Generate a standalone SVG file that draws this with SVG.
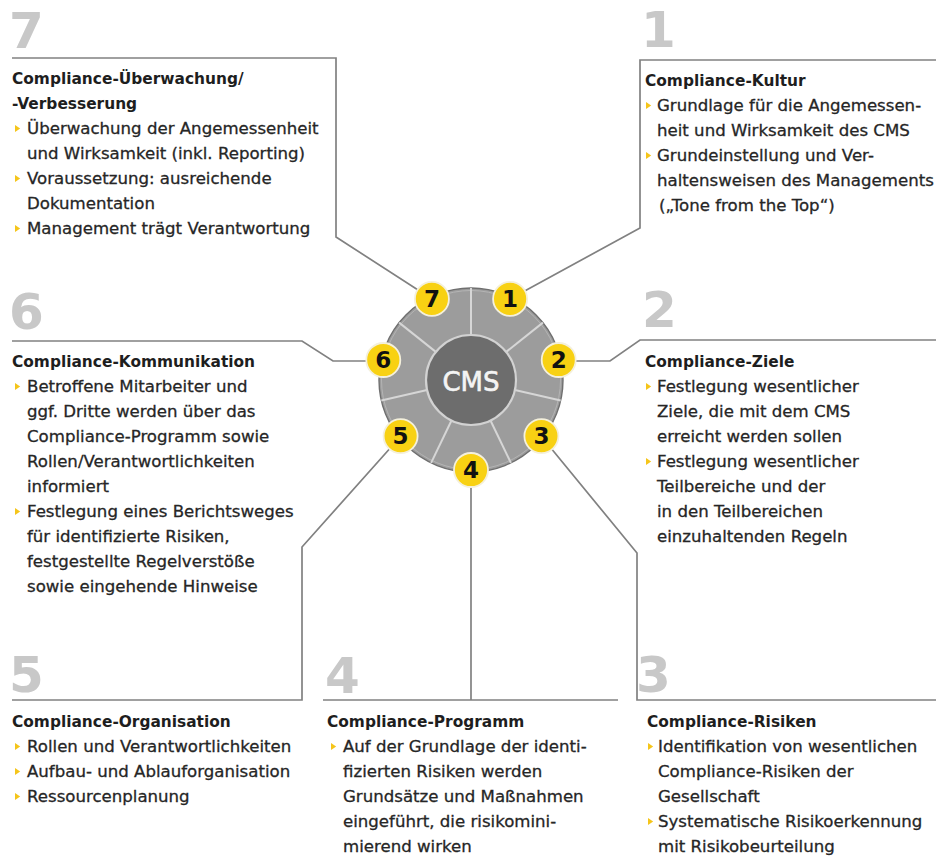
<svg xmlns="http://www.w3.org/2000/svg" xmlns:xlink="http://www.w3.org/1999/xlink" width="936" height="857" viewBox="0 0 936 857">
  <style>
    .num { font-family: "DejaVu Sans", "Liberation Sans", sans-serif; font-weight: bold; font-size: 50px; fill: #c8c8c8; }
    .title { font-family: "DejaVu Sans", "Liberation Sans", sans-serif; font-weight: bold; font-size: 15.4px; fill: #1e1e1e; }
    .body { font-family: "DejaVu Sans", "Liberation Sans", sans-serif; font-size: 16.6px; fill: #262626; stroke: #262626; stroke-width: 0.3; }
    .conn { fill: none; stroke: #818181; stroke-width: 1.7; stroke-linejoin: miter; }
    .sep { stroke: #d6d6d6; stroke-width: 2; }
    .badge { fill: #f8d113; stroke: #f4f0dc; stroke-width: 1.8; }
    .badge-num { font-family: "DejaVu Sans", "Liberation Sans", sans-serif; font-weight: bold; font-size: 23px; fill: #111; text-anchor: middle; }
    .cms { font-family: "DejaVu Sans", "Liberation Sans", sans-serif; font-size: 26px; fill: #f4f4f4; stroke: #f4f4f4; stroke-width: 0.6; text-anchor: middle; }
    .bul { fill: #f5c51a; }
  </style>
  <defs>
    <path id="bullet" d="M0,-3.5 L5.2,0 L0,3.5 Z"/>
  </defs>

  <rect width="936" height="857" fill="#ffffff"/>

  <!-- connectors from the wheel to the text panels -->
  <g id="connectors">
    <polyline class="conn" points="12,58 336,58 336,237 432,299"/>
    <polyline class="conn" points="936,60 640,60 640,228 510,299"/>
    <polyline class="conn" points="12,341 302,341 333,361 383,361"/>
    <polyline class="conn" points="936,340 640,340 610,361 559,361"/>
    <polyline class="conn" points="401,436 302,547 302,700 12,700"/>
    <polyline class="conn" points="471,470 471,700"/>
    <line class="conn" x1="323" y1="700" x2="618" y2="700"/>
    <polyline class="conn" points="541,436 637,553 637,700 936,700"/>
  </g>

  <!-- central wheel -->
  <g id="cms">
    <circle cx="471" cy="380" r="92" fill="#9c9c9c" stroke="#6f6f6f" stroke-width="1.4"/>
    <circle cx="471" cy="380" r="89.5" fill="none" stroke="#b4b4b4" stroke-width="1"/>
    <line class="sep" x1="471" y1="335" x2="471" y2="288"/>
    <line class="sep" x1="506.2" y1="351.9" x2="542.9" y2="322.6"/>
    <line class="sep" x1="514.9" y1="390" x2="560.7" y2="400.5"/>
    <line class="sep" x1="490.5" y1="420.5" x2="510.9" y2="462.9"/>
    <line class="sep" x1="451.5" y1="420.5" x2="431.1" y2="462.9"/>
    <line class="sep" x1="427.1" y1="390" x2="381.3" y2="400.5"/>
    <line class="sep" x1="435.8" y1="351.9" x2="399.1" y2="322.6"/>
    <circle cx="471" cy="380" r="45" fill="#6d6d6d" stroke="#d2d2d2" stroke-width="2.2"/>
    <text class="cms" x="471" y="391">CMS</text>

    <g id="badge-1"><circle class="badge" cx="510.1" cy="298.9" r="17"/><text class="badge-num" x="510.1" y="307.2">1</text></g>
    <g id="badge-2"><circle class="badge" cx="558.7" cy="360" r="17"/><text class="badge-num" x="558.7" y="368.3">2</text></g>
    <g id="badge-3"><circle class="badge" cx="541.4" cy="436.1" r="17"/><text class="badge-num" x="541.4" y="444.4">3</text></g>
    <g id="badge-4"><circle class="badge" cx="471" cy="470" r="17"/><text class="badge-num" x="471" y="478.3">4</text></g>
    <g id="badge-5"><circle class="badge" cx="400.6" cy="436.1" r="17"/><text class="badge-num" x="400.6" y="444.4">5</text></g>
    <g id="badge-6"><circle class="badge" cx="383.3" cy="360" r="17"/><text class="badge-num" x="383.3" y="368.3">6</text></g>
    <g id="badge-7"><circle class="badge" cx="431.9" cy="298.9" r="17"/><text class="badge-num" x="431.9" y="307.2">7</text></g>
  </g>

  <!-- 7: monitoring / improvement -->
  <g id="node-7">
    <text class="num" x="9" y="48">7</text>
    <text class="title" x="12" y="84">Compliance-Überwachung/</text>
    <text class="title" x="12" y="109">-Verbesserung</text>
    <use href="#bullet" class="bul" x="15" y="128.5"/>
    <text class="body" x="27" y="134">Überwachung der Angemessenheit</text>
    <text class="body" x="27" y="159">und Wirksamkeit (inkl. Reporting)</text>
    <use href="#bullet" class="bul" x="15" y="178.5"/>
    <text class="body" x="27" y="184">Voraussetzung: ausreichende</text>
    <text class="body" x="27" y="209">Dokumentation</text>
    <use href="#bullet" class="bul" x="15" y="228.5"/>
    <text class="body" x="27" y="234">Management trägt Verantwortung</text>
  </g>

  <!-- 1: culture -->
  <g id="node-1">
    <text class="num" x="641" y="47">1</text>
    <text class="title" x="645" y="86">Compliance-Kultur</text>
    <use href="#bullet" class="bul" x="646" y="105.5"/>
    <text class="body" x="657" y="111">Grundlage für die Angemessen-</text>
    <text class="body" x="657" y="136">heit und Wirksamkeit des CMS</text>
    <use href="#bullet" class="bul" x="646" y="155.5"/>
    <text class="body" x="657" y="161">Grundeinstellung und Ver-</text>
    <text class="body" x="657" y="186">haltensweisen des Managements</text>
    <text class="body" x="659" y="211">(„Tone from the Top“)</text>
  </g>

  <!-- 6: communication -->
  <g id="node-6">
    <text class="num" x="9" y="329">6</text>
    <text class="title" x="12" y="367">Compliance-Kommunikation</text>
    <use href="#bullet" class="bul" x="15" y="386.5"/>
    <text class="body" x="27" y="392">Betroffene Mitarbeiter und</text>
    <text class="body" x="27" y="417">ggf. Dritte werden über das</text>
    <text class="body" x="27" y="442">Compliance-Programm sowie</text>
    <text class="body" x="27" y="467">Rollen/Verantwortlichkeiten</text>
    <text class="body" x="27" y="492">informiert</text>
    <use href="#bullet" class="bul" x="15" y="511.5"/>
    <text class="body" x="27" y="517">Festlegung eines Berichtsweges</text>
    <text class="body" x="27" y="542">für identifizierte Risiken,</text>
    <text class="body" x="27" y="567">festgestellte Regelverstöße</text>
    <text class="body" x="27" y="592">sowie eingehende Hinweise</text>
  </g>

  <!-- 2: objectives -->
  <g id="node-2">
    <text class="num" x="642" y="327">2</text>
    <text class="title" x="645" y="367">Compliance-Ziele</text>
    <use href="#bullet" class="bul" x="646" y="386.5"/>
    <text class="body" x="657" y="392">Festlegung wesentlicher</text>
    <text class="body" x="657" y="417">Ziele, die mit dem CMS</text>
    <text class="body" x="657" y="442">erreicht werden sollen</text>
    <use href="#bullet" class="bul" x="646" y="461.5"/>
    <text class="body" x="657" y="467">Festlegung wesentlicher</text>
    <text class="body" x="657" y="492">Teilbereiche und der</text>
    <text class="body" x="657" y="517">in den Teilbereichen</text>
    <text class="body" x="657" y="542">einzuhaltenden Regeln</text>
  </g>

  <!-- 5: organisation -->
  <g id="node-5">
    <text class="num" x="9" y="692">5</text>
    <text class="title" x="12" y="727">Compliance-Organisation</text>
    <use href="#bullet" class="bul" x="15" y="746.5"/>
    <text class="body" x="27" y="752">Rollen und Verantwortlichkeiten</text>
    <use href="#bullet" class="bul" x="15" y="771.5"/>
    <text class="body" x="27" y="777">Aufbau- und Ablauforganisation</text>
    <use href="#bullet" class="bul" x="15" y="796.5"/>
    <text class="body" x="27" y="802">Ressourcenplanung</text>
  </g>

  <!-- 4: programme -->
  <g id="node-4">
    <text class="num" x="325" y="693">4</text>
    <text class="title" x="327" y="727">Compliance-Programm</text>
    <use href="#bullet" class="bul" x="331" y="746.5"/>
    <text class="body" x="343" y="752">Auf der Grundlage der identi-</text>
    <text class="body" x="343" y="777">fizierten Risiken werden</text>
    <text class="body" x="343" y="802">Grundsätze und Maßnahmen</text>
    <text class="body" x="343" y="827">eingeführt, die risikomini-</text>
    <text class="body" x="343" y="852">mierend wirken</text>
  </g>

  <!-- 3: risks -->
  <g id="node-3">
    <text class="num" x="636" y="692">3</text>
    <text class="title" x="647" y="727">Compliance-Risiken</text>
    <use href="#bullet" class="bul" x="648" y="746.5"/>
    <text class="body" x="658" y="752">Identifikation von wesentlichen</text>
    <text class="body" x="658" y="777">Compliance-Risiken der</text>
    <text class="body" x="658" y="802">Gesellschaft</text>
    <use href="#bullet" class="bul" x="648" y="821.5"/>
    <text class="body" x="658" y="827">Systematische Risikoerkennung</text>
    <text class="body" x="658" y="852">mit Risikobeurteilung</text>
  </g>
</svg>
